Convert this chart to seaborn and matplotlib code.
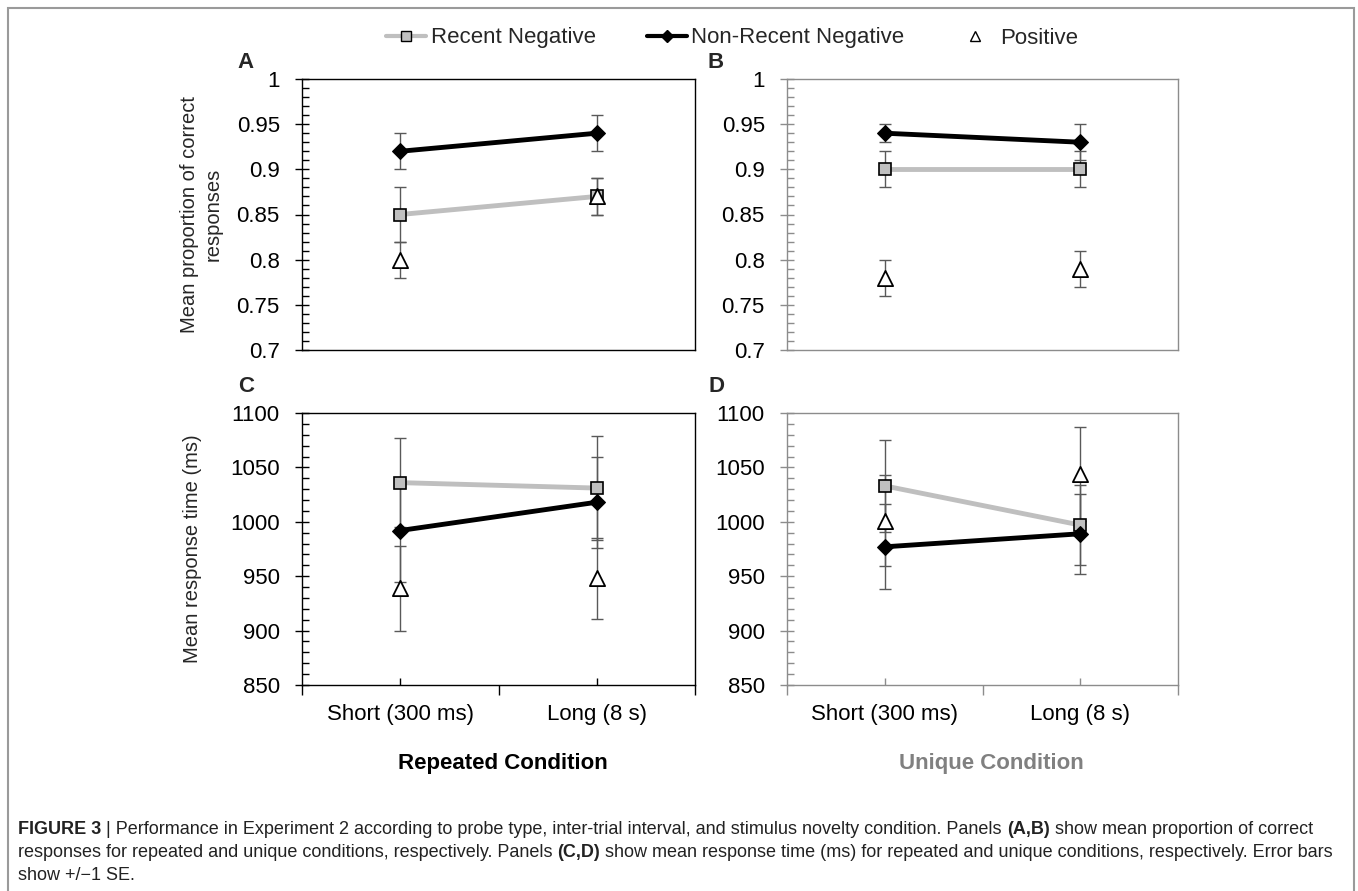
import matplotlib
matplotlib.use("Agg")
import matplotlib.pyplot as plt
import matplotlib.patches as mpatches
from matplotlib.lines import Line2D
from matplotlib.text import Annotation
from matplotlib.ticker import MultipleLocator
import seaborn as sns
import pandas as pd

sns.set_theme(style="white")
plt.rcParams["font.family"] = ["Liberation Sans", "DejaVu Sans"]

# ---------------------------------------------
# Data
# ---------------------------------------------
intervals = ["Short (300 ms)", "Long (8 s)"]
series = ["Recent Negative", "Non-Recent Negative", "Positive"]

acc_rep_recent = [0.85, 0.87]
acc_rep_recent_se = [0.03, 0.02]
acc_rep_nonrecent = [0.92, 0.94]
acc_rep_nonrecent_se = [0.02, 0.02]
acc_rep_positive = [0.80, 0.87]
acc_rep_positive_se = [0.02, 0.02]

acc_uni_recent = [0.90, 0.90]
acc_uni_recent_se = [0.02, 0.02]
acc_uni_nonrecent = [0.94, 0.93]
acc_uni_nonrecent_se = [0.01, 0.02]
acc_uni_positive = [0.78, 0.79]
acc_uni_positive_se = [0.02, 0.02]

rt_rep_recent = [1036, 1031]
rt_rep_recent_se = [41, 48]
rt_rep_nonrecent = [992, 1018]
rt_rep_nonrecent_se = [47, 42]
rt_rep_positive = [939, 948]
rt_rep_positive_se = [39, 37]

rt_uni_recent = [1033, 997]
rt_uni_recent_se = [42, 37]
rt_uni_nonrecent = [977, 989]
rt_uni_nonrecent_se = [39, 37]
rt_uni_positive = [1001, 1044]
rt_uni_positive_se = [42, 43]

acc_ticks = [0.7, 0.75, 0.8, 0.85, 0.9, 0.95, 1]
rt_ticks = [850, 900, 950, 1000, 1050, 1100]

GRAY_LINE = "#bfbfbf"
GRAY_FILL = "#c0c0c0"
ERR_COLOR = "#595959"


def make_df(recent, recent_se, nonrecent, nonrecent_se, positive, positive_se):
    rows = []
    for name, vals, ses in zip(series,
                               [recent, nonrecent, positive],
                               [recent_se, nonrecent_se, positive_se]):
        for i, (v, s) in enumerate(zip(vals, ses)):
            rows.append({"probe": name, "x": i, "interval": intervals[i], "mean": v, "se": s})
    return pd.DataFrame(rows)


def draw_panel(ax, df, ylim, yticks, minor, spine_color, show_x):
    # error bars first, behind the markers
    for name in series:
        d = df[df.probe == name]
        ax.errorbar(d["x"], d["mean"], yerr=d["se"], fmt="none", ecolor=ERR_COLOR,
                    elinewidth=1.0, capsize=4, capthick=1.0, zorder=1)

    d = df[df.probe == "Recent Negative"]
    sns.lineplot(data=d, x="x", y="mean", ax=ax, color=GRAY_LINE, linewidth=3.5,
                 marker="s", markersize=9, markerfacecolor=GRAY_FILL,
                 markeredgecolor="black", markeredgewidth=1.2, errorbar=None, zorder=3)
    d = df[df.probe == "Non-Recent Negative"]
    sns.lineplot(data=d, x="x", y="mean", ax=ax, color="black", linewidth=3.5,
                 marker="D", markersize=8, markerfacecolor="black",
                 markeredgecolor="black", errorbar=None, zorder=4)
    d = df[df.probe == "Positive"]
    sns.scatterplot(data=d, x="x", y="mean", ax=ax, marker="^", s=120,
                    facecolor="white", edgecolor="black", linewidth=1.3, zorder=5)

    ax.set_xlim(-0.5, 1.5)
    ax.set_ylim(*ylim)
    ax.set_yticks(yticks)
    ax.set_yticklabels([f"{v:g}" for v in yticks], fontsize=16, color="black")
    ax.yaxis.set_minor_locator(MultipleLocator(minor))
    ax.tick_params(axis="y", which="major", direction="inout", length=10,
                   width=1, color=spine_color, left=True, pad=11)
    ax.tick_params(axis="y", which="minor", direction="in", length=5,
                   width=1, color=spine_color, left=True)
    ax.set_xticks([0, 1])
    if show_x:
        ax.set_xticklabels(intervals, fontsize=16, color="black")
        ax.set_xticks([-0.5, 0.5, 1.5], minor=True)
        ax.tick_params(axis="x", which="major", direction="in", length=5,
                       width=1, color=spine_color, bottom=True, pad=14)
        ax.tick_params(axis="x", which="minor", direction="out", length=7,
                       width=1, color=spine_color, bottom=True)
    else:
        ax.set_xticklabels([])
        ax.tick_params(axis="x", which="both", length=0)
    for sp in ax.spines.values():
        sp.set_color(spine_color)
        sp.set_linewidth(1.0)
        sp.set_visible(True)
    ax.set_xlabel("")
    ax.set_ylabel("")


W, H = 1358, 891
fig = plt.figure(figsize=(W / 100, H / 100), dpi=100)


def px_axes(left, top, right, bottom):
    return fig.add_axes([left / W, 1 - bottom / H, (right - left) / W, (bottom - top) / H])


axA = px_axes(302, 79, 695, 350)
axB = px_axes(787, 79, 1178, 350)
axC = px_axes(302, 413, 695, 685)
axD = px_axes(787, 413, 1178, 685)

draw_panel(axA, make_df(acc_rep_recent, acc_rep_recent_se, acc_rep_nonrecent,
                        acc_rep_nonrecent_se, acc_rep_positive, acc_rep_positive_se),
           (0.7, 1.0), acc_ticks, 0.01, "black", False)
draw_panel(axB, make_df(acc_uni_recent, acc_uni_recent_se, acc_uni_nonrecent,
                        acc_uni_nonrecent_se, acc_uni_positive, acc_uni_positive_se),
           (0.7, 1.0), acc_ticks, 0.01, "#8c8c8c", False)
draw_panel(axC, make_df(rt_rep_recent, rt_rep_recent_se, rt_rep_nonrecent,
                        rt_rep_nonrecent_se, rt_rep_positive, rt_rep_positive_se),
           (850, 1100), rt_ticks, 10, "black", True)
draw_panel(axD, make_df(rt_uni_recent, rt_uni_recent_se, rt_uni_nonrecent,
                        rt_uni_nonrecent_se, rt_uni_positive, rt_uni_positive_se),
           (850, 1100), rt_ticks, 10, "#8c8c8c", True)

axA.set_ylabel("Mean proportion of correct\nresponses", fontsize=14.5, linespacing=1.25)
axA.yaxis.set_label_coords(-0.203, 0.5)
axC.set_ylabel("Mean response time (ms)", fontsize=14.5)
axC.yaxis.set_label_coords(-0.255, 0.5)

# panel letters
for letter, (x, y) in zip("ABCD", [(246, 63), (716, 63), (246, 386), (716, 386)]):
    fig.text(x / W, 1 - y / H, letter, fontsize=16, fontweight="bold",
             ha="center", va="center")

# condition labels
fig.text(503 / W, 1 - 763 / H, "Repeated Condition", fontsize=16, fontweight="bold",
         ha="center", va="center", color="black")
fig.text(991 / W, 1 - 763 / H, "Unique Condition", fontsize=16, fontweight="bold",
         ha="center", va="center", color="#808080")

# legend
handles = [
    Line2D([], [], color=GRAY_LINE, lw=3, marker="s", markersize=7,
           markerfacecolor=GRAY_FILL, markeredgecolor="black"),
    Line2D([], [], color="black", lw=3, marker="D", markersize=6),
    Line2D([], [], color="none", marker="^", markersize=7,
           markerfacecolor="white", markeredgecolor="black", lw=0),
]
fig.legend(handles, series, loc="center", bbox_to_anchor=(732 / W, 1 - 38 / H), ncol=3,
           frameon=False, fontsize=16, handlelength=1.8, handletextpad=0.2,
           columnspacing=2.3)

# border around figure
fig.add_artist(mpatches.Rectangle((8 / W, -0.05), (1354 - 8) / W, 1.05 - 8 / H,
                                  transform=fig.transFigure, fill=False,
                                  edgecolor="#9a9a9a", linewidth=1.5, clip_on=False))

# caption
cap_font = ["Liberation Sans", "DejaVu Sans"]
cap_lines = [
    [("FIGURE 3", "bold"), (" | Performance in Experiment 2 according to probe type, inter-trial interval, "
                            "and stimulus novelty condition. Panels ", "normal"),
     ("(A,B)", "bold"), (" show mean proportion of correct", "normal")],
    [("responses for repeated and unique conditions, respectively. Panels ", "normal"),
     ("(C,D)", "bold"), (" show mean response time (ms) for repeated and unique conditions, "
                         "respectively. Error bars", "normal")],
    [("show +/\u22121 SE.", "normal")],
]
for li, parts in enumerate(cap_lines):
    y = 1 - (834 + li * 23) / H
    prev = None
    for txt, wt in parts:
        if prev is None:
            prev = fig.text(18 / W, y, txt, fontsize=13, fontweight=wt, family=cap_font,
                            ha="left", va="baseline", color="#222222")
        else:
            ann = Annotation(txt, xy=(1, 0), xycoords=prev, ha="left", va="bottom",
                             fontsize=13, fontweight=wt, family=cap_font, color="#222222")
            fig.add_artist(ann)
            prev = ann

fig.savefig("out.png", dpi=100)
